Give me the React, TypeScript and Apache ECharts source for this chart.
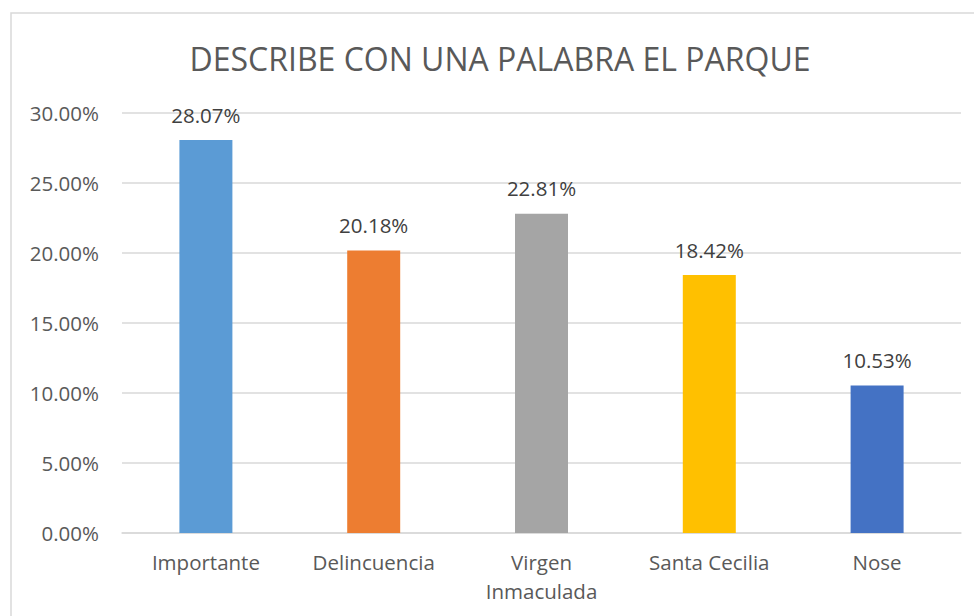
import React, { useEffect, useRef } from "react";
import * as echarts from "echarts";

const title = "DESCRIBE CON UNA PALABRA EL PARQUE";
const categories = ["Importante", "Delincuencia", "Virgen\nInmaculada", "Santa Cecilia", "Nose"];
const values = [28.07, 20.18, 22.81, 18.42, 10.53];
const colors = ["#5B9BD5", "#ED7D31", "#A5A5A5", "#FFC000", "#4472C4"];
const yMin = 0;
const yMax = 30;
const yStep = 5;

const FONT = "'Open Sans', 'Noto Sans', sans-serif";
const FS = 20.5;

export default function App() {
  const ref = useRef<HTMLDivElement>(null);
  useEffect(() => {
    if (!ref.current) return;
    const chart = echarts.init(ref.current, null, { renderer: "svg" });
    chart.setOption({
      animation: false,
      backgroundColor: "#ffffff",
      graphic: [
        {
          type: "rect",
          shape: { x: 11, y: 13, width: 1100, height: 800 },
          style: { fill: "none", stroke: "#d9d9d9", lineWidth: 1.5 },
          silent: true,
        },
        {
          type: "text",
          x: 500,
          y: 58,
          style: {
            text: title,
            fontFamily: FONT,
            fontSize: 32,
            fill: "#595959",
            align: "center",
            verticalAlign: "middle",
          },
          silent: true,
        },
      ],
      grid: { left: 122, right: 13, top: 113, bottom: 83, containLabel: false },
      xAxis: {
        type: "category",
        data: categories,
        axisLine: { lineStyle: { color: "#d9d9d9", width: 1.5 } },
        axisTick: { show: false },
        axisLabel: {
          fontFamily: FONT,
          fontSize: FS,
          color: "#595959",
          margin: 14,
          lineHeight: 29,
          interval: 0,
        },
      },
      yAxis: {
        type: "value",
        min: yMin,
        max: yMax,
        interval: yStep,
        axisLine: { show: false },
        axisTick: { show: false },
        splitLine: { lineStyle: { color: "#d9d9d9", width: 1.5 } },
        axisLabel: {
          fontFamily: FONT,
          fontSize: FS,
          color: "#595959",
          margin: 23,
          formatter: (v: number) => v.toFixed(2) + "%",
        },
      },
      series: [
        {
          type: "bar",
          barWidth: 53,
          data: values.map((v, i) => ({ value: v, itemStyle: { color: colors[i] } })),
          label: {
            show: true,
            position: "top",
            distance: 15,
            fontFamily: FONT,
            fontSize: FS,
            color: "#404040",
            formatter: (p: any) => Number(p.value).toFixed(2) + "%",
          },
        },
      ],
    });
    return () => chart.dispose();
  }, []);
  return (
    <div
      ref={ref}
      style={{ position: "fixed", left: 0, top: 0, width: 974, height: 616 }}
    />
  );
}
